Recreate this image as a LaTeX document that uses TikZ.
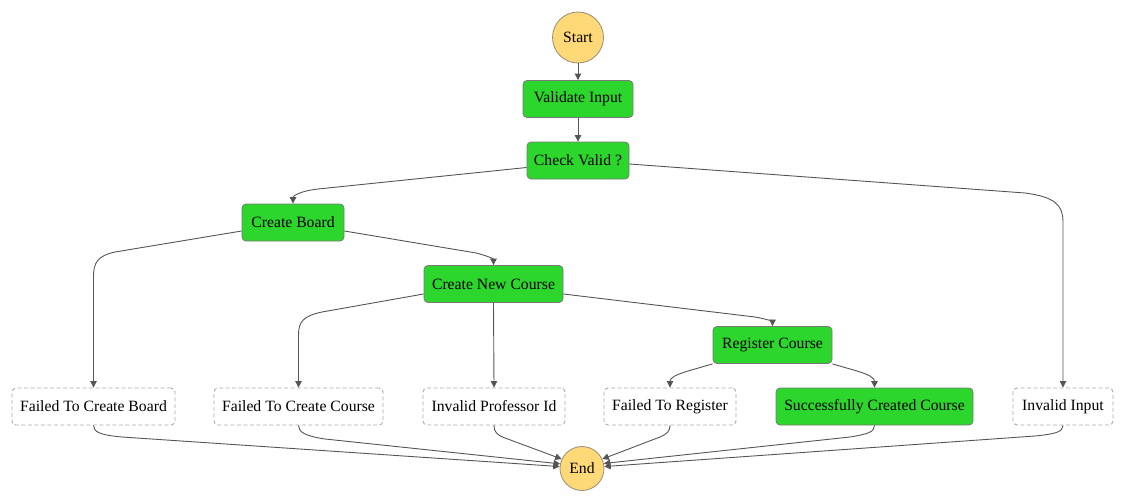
\documentclass[tikz,border=0pt]{standalone}
\usepackage{fontspec}
\setmainfont{Liberation Serif}
\usetikzlibrary{arrows.meta,calc}
\definecolor{stepgreen}{RGB}{45,214,45}
\definecolor{stepborder}{RGB}{120,120,120}
\definecolor{termfill}{RGB}{255,216,120}
\definecolor{termborder}{RGB}{150,140,120}
\definecolor{dashborder}{RGB}{170,170,170}
\definecolor{edgecol}{RGB}{85,85,85}
\tikzset{
  every node/.style={font=\fontsize{15.7}{18}\selectfont, text=black},
  taskbox/.style={draw=stepborder, fill=stepgreen, rounded corners=4pt, line width=0.8pt, minimum height=37pt, inner xsep=2pt},
  failbox/.style={draw=dashborder, fill=white, dashed, dash pattern=on 4pt off 2.5pt, rounded corners=4pt, line width=0.9pt, minimum height=37pt, inner xsep=2pt},
  termnode/.style={circle, draw=termborder, fill=termfill, line width=0.8pt, inner sep=0pt},
  conn/.style={draw=edgecol, line width=0.9pt, -{Triangle[length=6.5pt,width=6.5pt]}, fill=none}
}
\begin{document}
\begin{tikzpicture}[x=1pt,y=-1pt]
\useasboundingbox (0,0) rectangle (1125,503);

\node[termnode, minimum size=51pt] (start) at (578,37.5) {Start};
\node[taskbox, minimum width=110pt] (vi) at (578,99) {Validate Input};
\node[taskbox, minimum width=102pt] (cv) at (578,160.5) {Check Valid ?};
\node[taskbox, minimum width=102pt] (cb) at (293,222.5) {Create Board};
\node[taskbox, minimum width=139pt] (cnc) at (493.5,284) {Create New Course};
\node[taskbox, minimum width=119pt] (rc) at (772.5,345) {Register Course};

\node[failbox, minimum width=163pt] (fb) at (93.5,406.5) {Failed To Create Board};
\node[failbox, minimum width=169pt] (fc) at (298.5,406.5) {Failed To Create Course};
\node[failbox, minimum width=142pt] (ip) at (494,406.5) {Invalid Professor Id};
\node[failbox, minimum width=132pt] (fr) at (670,406.5) {Failed To Register};
\node[taskbox, minimum width=197pt] (sc) at (874.5,406.5) {Successfully Created Course};
\node[failbox, minimum width=100pt] (ii) at (1063,406.5) {Invalid Input};

\node[termnode, minimum size=44pt] (end) at (582,468.5) {End};

% main chain
\draw[conn] (start.south) -- (vi.north);
\draw[conn] (vi.south) -- (cv.north);

% Check Valid branches
\draw[conn] ($(cv.west)+(0,7)$) -- (318,189) .. controls (300,191) and (293,196) .. (cb.north);
\draw[conn] ($(cv.east)+(0,3.5)$) -- (1025,193) .. controls (1055,197) and (1063,205) .. (1063,222) -- (ii.north);

% Create Board branches
\draw[conn] ($(cb.west)+(0,8.5)$) -- (115,252) .. controls (97,256) and (93.5,263) .. (93.5,277) -- (fb.north);
\draw[conn] ($(cb.east)+(0,8.5)$) -- (476,253) .. controls (488,256) and (493.5,259) .. (cnc.north);

% Create New Course branches
\draw[conn] ($(cnc.west)+(0,10)$) -- (322,312) .. controls (303,316) and (298.5,322) .. (298.5,335) -- (fc.north);
\draw[conn] (cnc.south) -- (ip.north);
\draw[conn] ($(cnc.east)+(0,10)$) -- (755,317) .. controls (767,319) and (772.5,322) .. (rc.north);

% Register Course branches
\draw[conn] (rc.south west) -- (688,371) .. controls (675,375) and (670,378) .. (fr.north);
\draw[conn] (rc.south east) -- (857,371) .. controls (870,375) and (874.5,378) .. (sc.north);

% to End
\draw[conn] (fb.south) .. controls (93.5,432) and (100,435) .. (122,437) -- (end.175);
\draw[conn] (fc.south) .. controls (298.5,432) and (305,436) .. (325,439) -- (end.168);
\draw[conn] (ip.south) .. controls (494,432) and (497,435) .. (505,438) -- (end.155);
\draw[conn] (fr.south) .. controls (670,431) and (667,434) .. (660,437) -- (end.25);
\draw[conn] (sc.south) .. controls (874.5,432) and (868,434) .. (850,437) -- (end.13);
\draw[conn] (ii.south) .. controls (1063,432) and (1055,434) .. (1035,436) -- (end.5);
\end{tikzpicture}
\end{document}
